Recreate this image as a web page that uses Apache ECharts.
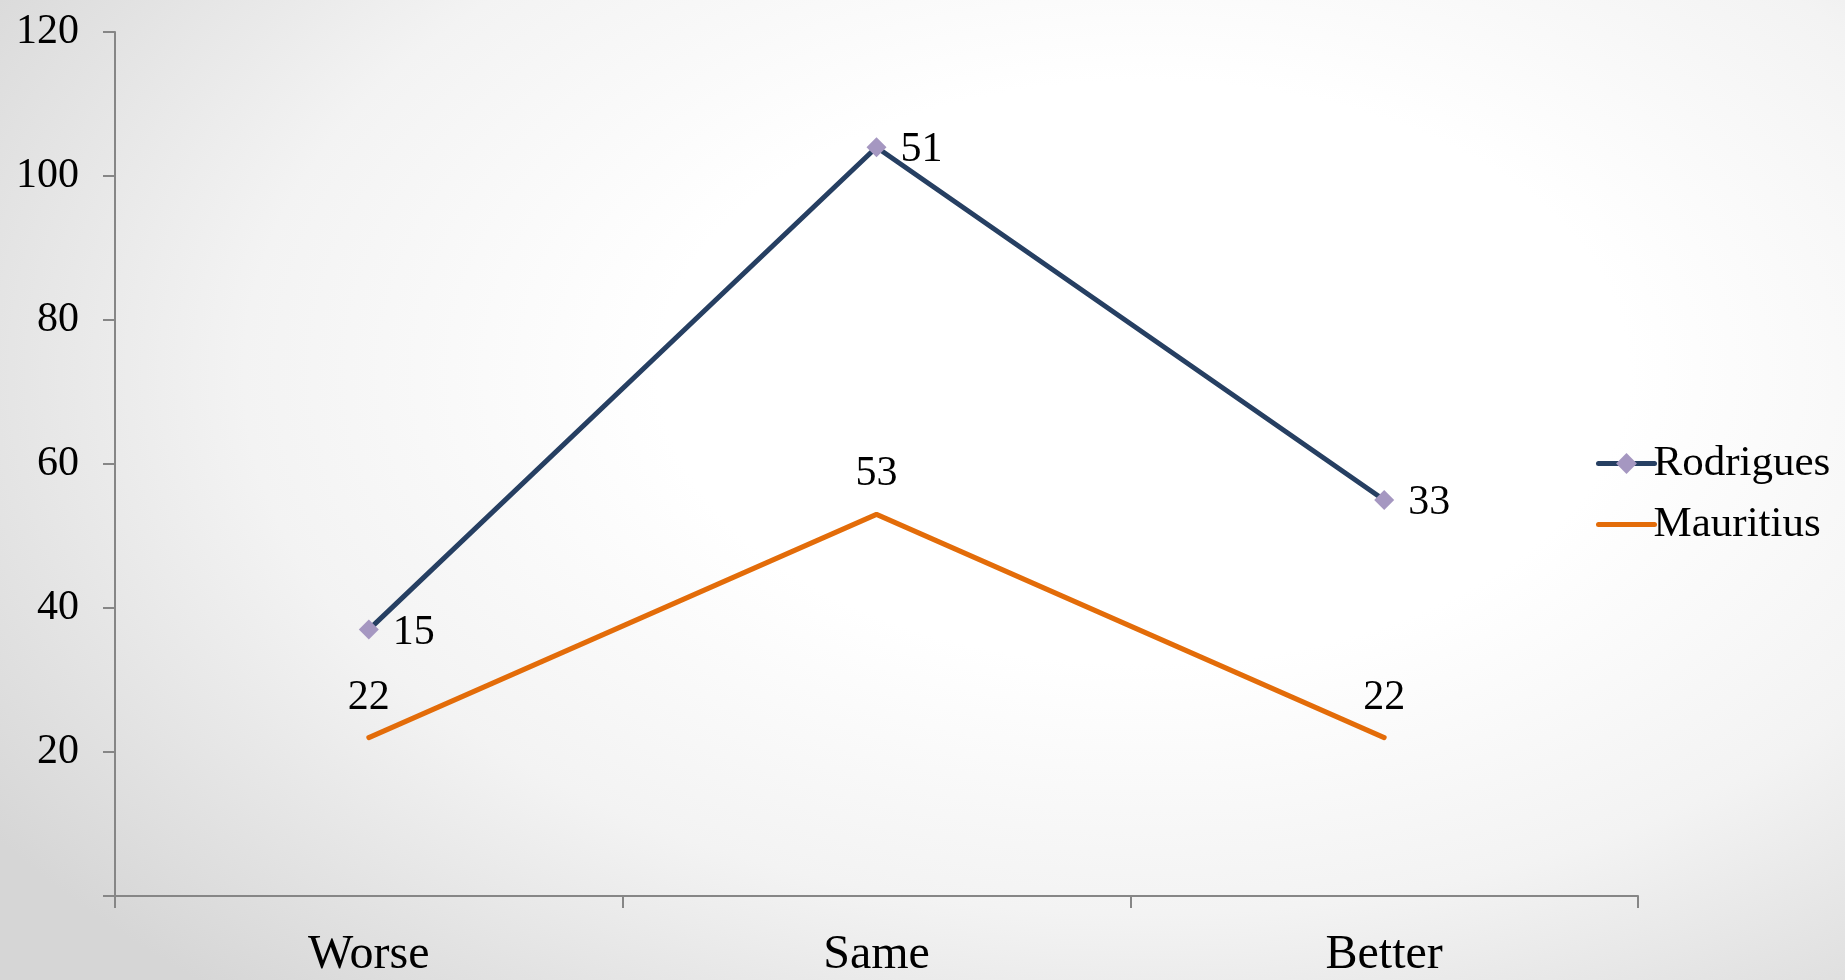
<!DOCTYPE html>
<html>
<head>
<meta charset="utf-8">
<script src="https://cdn.jsdelivr.net/npm/echarts@6/dist/echarts.min.js"></script>
<style>
  html, body { margin: 0; padding: 0; width: 100%; height: 100%; }
  body { background: radial-gradient(ellipse 75% 85% at 62% 38%, #ffffff 35%, #f3f3f3 65%, #d6d6d6 100%); }
  #chart { width: 1845px; height: 980px; }
</style>
</head>
<body>
<div id="chart"></div>
<script>
// Categories along the x axis
const categories = ['Worse', 'Same', 'Better'];
// Series values (Rodrigues is stacked on top of Mauritius)
const mauritius = [22, 53, 22];
const rodrigues = [15, 51, 33];
// Value axis range
const yMin = 0;
const yMax = 120;
const yStep = 20;

const font = 'Liberation Serif, "Times New Roman", serif';
const navy = '#263f62';
const orange = '#e36c09';
const lavender = '#a597c1';
const chart = echarts.init(document.getElementById('chart'), null, { renderer: 'canvas' });

chart.setOption({
  backgroundColor: 'transparent',
  animation: false,
  textStyle: { fontFamily: font, color: '#000' },
  grid: { left: 115, right: 207, top: 32, bottom: 84, containLabel: false },
  legend: {
    data: [
      { name: 'Rodrigues', itemStyle: { color: lavender }, lineStyle: { color: navy, width: 5 } },
      { name: 'Mauritius', lineStyle: { color: orange, width: 5 } }
    ],
    orient: 'vertical',
    left: 1591,
    top: 437,
    itemWidth: 56,
    itemHeight: 26,
    itemGap: 18,
    textStyle: { fontFamily: font, fontSize: 43, color: '#000', padding: [0, 0, 0, -6] }
  },
  xAxis: {
    type: 'category',
    data: categories,
    boundaryGap: true,
    axisLine: { lineStyle: { color: '#868686', width: 2 } },
    axisTick: { show: true, length: 12, lineStyle: { color: '#868686', width: 2 } },
    axisLabel: { fontFamily: font, fontSize: 48, color: '#000', margin: 35 },
    splitLine: { show: false }
  },
  yAxis: {
    type: 'value',
    min: yMin,
    max: yMax,
    interval: yStep,
    axisLine: { show: true, lineStyle: { color: '#868686', width: 2 } },
    axisTick: { show: true, length: 12, lineStyle: { color: '#868686', width: 2 } },
    axisLabel: {
      fontFamily: font, fontSize: 42, color: '#000', margin: 36,
      formatter: v => (v === 0 ? '' : String(v))
    },
    splitLine: { show: false }
  },
  series: [
    {
      name: 'Mauritius',
      type: 'line',
      stack: 'total',
      data: mauritius,
      symbol: 'circle',
      symbolSize: 2,
      itemStyle: { color: 'rgba(0,0,0,0)' },
      lineStyle: { color: orange, width: 5, cap: 'round', join: 'round' },
      label: {
        show: true, position: 'top', distance: 18,
        fontFamily: font, fontSize: 42, color: '#000'
      },
      z: 2
    },
    {
      name: 'Rodrigues',
      type: 'line',
      stack: 'total',
      data: rodrigues,
      symbol: 'diamond',
      symbolSize: 20,
      itemStyle: { color: lavender },
      lineStyle: { color: navy, width: 5, cap: 'round', join: 'round' },
      label: {
        show: true, position: 'right', distance: 14, offset: [0, 3],
        fontFamily: font, fontSize: 42, color: '#000'
      },
      z: 3
    }
  ]
});
</script>
</body>
</html>
